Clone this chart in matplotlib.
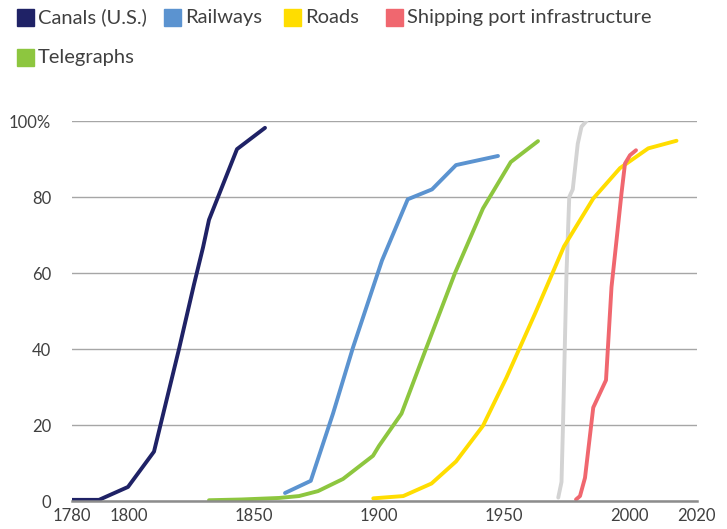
import matplotlib.pyplot as plt
from matplotlib.patches import Rectangle

plt.rcParams['font.family'] = ['Lato', 'DejaVu Sans']

canals_x = [1777.2, 1788, 1799.6, 1810, 1820, 1826, 1829.6, 1832, 1843.2, 1854.4]
canals_y = [0.3, 0.3, 3.7, 13, 40, 57, 66.7, 74, 92.6, 98.2]

rail_x = [1862.4, 1872.7, 1881.6, 1889.6, 1901.2, 1911.5, 1921.2, 1930.8, 1947.6]
rail_y = [2.1, 5.3, 23, 40.4, 63.3, 79.4, 82, 88.4, 90.8]

tele_x = [1832, 1845, 1860, 1868, 1875.6, 1885.6, 1897.6, 1900, 1909, 1919, 1930.4, 1941.6, 1952.7, 1963.6]
tele_y = [0.2, 0.4, 0.8, 1.3, 2.6, 5.8, 11.9, 14.5, 23, 40.4, 60, 77, 89.2, 94.7]

roads_x = [1897.7, 1909.7, 1921, 1930.8, 1941.6, 1951, 1962.4, 1974, 1985.7, 1996.4, 2007.7, 2019]
roads_y = [0.7, 1.3, 4.6, 10.4, 19.8, 32.5, 49.3, 67, 79.6, 87.6, 92.8, 94.8]

port_x = [1978.8, 1980.4, 1982.4, 1985.7, 1990.8, 1993, 1995.3, 1997, 1998.4, 2000.4, 2002.8]
port_y = [0.4, 1.3, 6.1, 24.6, 31.8, 56.3, 70.4, 81, 88.8, 91, 92.3]

gray_x = [1971.7, 1973, 1973.6, 1974.3, 1975, 1976.1, 1977.5, 1978.5, 1979.5, 1981, 1983]
gray_y = [0.9, 5, 20, 40, 60, 80, 82, 88, 94, 98.5, 100]

tick_years = [1777.2, 1800, 1850, 1900, 1950, 2000, 2026.8]
tick_labels = ["1780", "1800", "1850", "1900", "1950", "2000", "2020"]
y_ticks = [0, 20, 40, 60, 80, 100]
y_labels = ["0", "20", "40", "60", "80", "100%"]

legend_names = ["Canals (U.S.)", "Railways", "Roads", "Shipping port infrastructure", "Telegraphs"]

c_canal = "#1f2266"
c_rail = "#5b93d0"
c_road = "#ffdd00"
c_port = "#f0676f"
c_tele = "#8dc63f"
c_gray = "#d3d3d3"
txt = "#404040"

W, H = 727, 529
fig = plt.figure(figsize=(W / 100, H / 100), dpi=100)
ax = fig.add_axes([72 / W, 1 - 501 / H, 625 / W, 380 / H])

lw = 2.8
ax.plot(gray_x, gray_y, color=c_gray, lw=lw, solid_capstyle="round")
ax.plot(canals_x, canals_y, color=c_canal, lw=lw, solid_capstyle="round")
ax.plot(rail_x, rail_y, color=c_rail, lw=lw, solid_capstyle="round")
ax.plot(tele_x, tele_y, color=c_tele, lw=lw, solid_capstyle="round")
ax.plot(roads_x, roads_y, color=c_road, lw=lw, solid_capstyle="round")
ax.plot(port_x, port_y, color=c_port, lw=lw, solid_capstyle="round")

ax.set_xlim(1777.2, 2027.2)
ax.set_ylim(0, 100)
ax.set_xticks(tick_years)
ax.set_xticklabels(tick_labels)
ax.set_yticks(y_ticks)
ax.set_yticklabels(y_labels)
ax.tick_params(length=0, labelsize=12, colors=txt)
ax.tick_params(axis="y", pad=15)
ax.tick_params(axis="x", pad=5)
ax.grid(axis="y", color="#a6a6a6", lw=1)
ax.set_axisbelow(True)
for s in ["left", "right", "top"]:
    ax.spines[s].set_visible(False)
ax.spines["bottom"].set_color("#8c8c8c")
ax.spines["bottom"].set_linewidth(1.8)

# legend drawn by hand, two rows like the original
leg_colors = [c_canal, c_rail, c_road, c_port, c_tele]
leg_pos = [(17, 17.5), (164, 17.5), (284, 17.5), (386, 17.5), (17, 57.5)]
for name, col, (px, py) in zip(legend_names, leg_colors, leg_pos):
    fig.patches.append(Rectangle((px / W, 1 - (py + 8.5) / H), 17 / W, 17 / H,
                                 transform=fig.transFigure, color=col))
    fig.text((px + 21) / W, 1 - py / H, name, fontsize=14.5, color=txt,
             va="center", ha="left")

fig.savefig("out.png", dpi=100)
